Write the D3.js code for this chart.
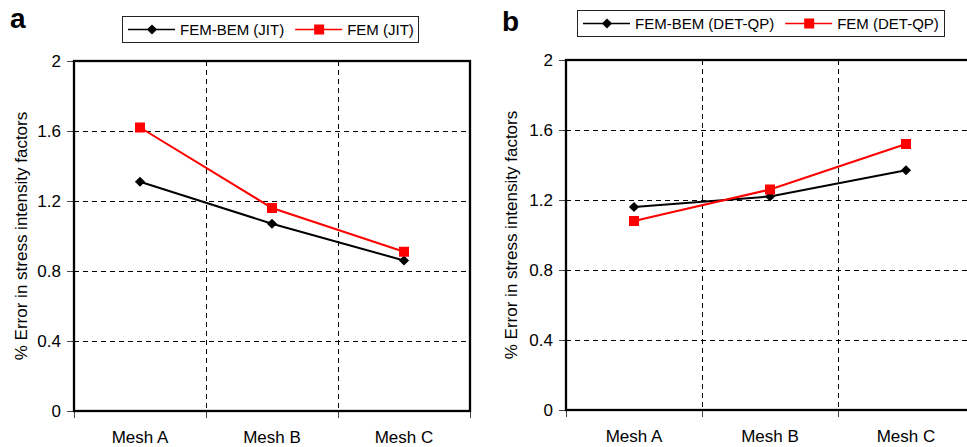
<!DOCTYPE html>
<html>
<head>
<meta charset="utf-8">
<script src="https://cdn.jsdelivr.net/npm/d3@7"></script>
<style>
  body { margin: 0; background: #fff; }
  svg { display: block; font-family: "Liberation Sans", Arial, sans-serif; }
</style>
</head>
<body>
<div id="container"></div>
<script>
// chart values
const categories = ["Mesh A", "Mesh B", "Mesh C"];
const yTicks = [0, 0.4, 0.8, 1.2, 1.6, 2];
const jitFemBem = [1.31, 1.07, 0.86];
const jitFem = [1.62, 1.16, 0.91];
const detFemBem = [1.16, 1.22, 1.37];
const detFem = [1.08, 1.26, 1.52];

const width = 967;
const height = 447;

const svg = d3.select("#container").append("svg")
    .attr("width", width)
    .attr("height", height);

// one panel per method, positions picked to match the original figure
const panels = [
    {
        letter: "a", letterX: 10, letterY: 28,
        left: 74, right: 470, top: 61, bottom: 411, titleX: 21,
        legend: { x: 122, y: 16, w: 296, h: 26 },
        series: [
            { name: "FEM-BEM (JIT)", values: jitFemBem, color: "#000", marker: "diamond" },
            { name: "FEM (JIT)", values: jitFem, color: "#ff0000", marker: "square" }
        ]
    },
    {
        letter: "b", letterX: 502, letterY: 31,
        left: 566, right: 974, top: 60, bottom: 410, titleX: 511,
        legend: { x: 577, y: 10, w: 367, h: 26 },
        series: [
            { name: "FEM-BEM (DET-QP)", values: detFemBem, color: "#000", marker: "diamond" },
            { name: "FEM (DET-QP)", values: detFem, color: "#ff0000", marker: "square" }
        ]
    }
];

// half pixel offset so 1px lines stay sharp
const crisp = v => Math.round(v) + 0.5;

function drawMarker(g, type, x, y, color) {
    if (type === "diamond") {
        g.append("path")
            .attr("d", d3.symbol().type(d3.symbolSquare).size(52)())
            .attr("transform", `translate(${x},${y}) rotate(45)`)
            .attr("fill", color);
    } else {
        g.append("rect")
            .attr("x", x - 5).attr("y", y - 5)
            .attr("width", 10).attr("height", 10)
            .attr("fill", color);
    }
}

panels.forEach(p => {
    const g = svg.append("g");

    const x = d3.scaleBand().domain(categories).range([p.left, p.right]).padding(0);
    const y = d3.scaleLinear().domain([0, 2]).range([p.bottom, p.top]);

    // panel letter
    g.append("text")
        .attr("x", p.letterX).attr("y", p.letterY)
        .attr("font-size", 28).attr("font-weight", "bold")
        .text(p.letter);

    // dashed grid
    g.append("g").selectAll("line")
        .data(yTicks.slice(1, -1))
        .join("line")
        .attr("x1", p.left).attr("x2", p.right)
        .attr("y1", d => crisp(y(d))).attr("y2", d => crisp(y(d)))
        .attr("stroke", "#000").attr("stroke-width", 1)
        .attr("stroke-dasharray", "5,4");

    g.append("g").selectAll("line")
        .data(categories.slice(1))
        .join("line")
        .attr("x1", d => crisp(x(d))).attr("x2", d => crisp(x(d)))
        .attr("y1", p.top).attr("y2", p.bottom)
        .attr("stroke", "#000").attr("stroke-width", 1)
        .attr("stroke-dasharray", "5,4");

    // y axis
    const yAxis = d3.axisLeft(y).tickValues(yTicks).tickSize(7).tickPadding(6)
        .tickFormat(d3.format("~g"));
    const ya = g.append("g").attr("transform", `translate(${p.left},0)`).call(yAxis);
    ya.select(".domain").remove();
    ya.selectAll(".tick line").attr("stroke", "#444");
    ya.selectAll("text").attr("font-size", 17).attr("fill", "#000")
        .attr("font-family", "Liberation Sans, Arial, sans-serif");

    // x axis: ticks on the band edges, labels at band centres
    const edges = categories.map(c => x(c)).concat([p.right]);
    g.append("g").selectAll("line")
        .data(edges)
        .join("line")
        .attr("x1", d => crisp(d)).attr("x2", d => crisp(d))
        .attr("y1", p.bottom).attr("y2", p.bottom + 7)
        .attr("stroke", "#444");
    g.append("g").selectAll("text")
        .data(categories)
        .join("text")
        .attr("x", d => x(d) + x.bandwidth() / 2)
        .attr("y", p.bottom + 32)
        .attr("text-anchor", "middle")
        .attr("font-size", 17)
        .text(d => d);

    // frame
    g.append("rect")
        .attr("x", p.left).attr("y", p.top)
        .attr("width", p.right - p.left).attr("height", p.bottom - p.top)
        .attr("fill", "none").attr("stroke", "#000").attr("stroke-width", 2.3);

    // axis title
    g.append("text")
        .attr("transform", `translate(${p.titleX},${(p.top + p.bottom) / 2}) rotate(-90)`)
        .attr("text-anchor", "middle")
        .attr("dy", "0.35em")
        .attr("font-size", 17)
        .text("% Error in stress intensity factors");

    // series
    const line = d3.line()
        .x((d, i) => x(categories[i]) + x.bandwidth() / 2)
        .y(d => y(d));

    p.series.forEach(s => {
        g.append("path")
            .datum(s.values)
            .attr("d", line)
            .attr("fill", "none")
            .attr("stroke", s.color)
            .attr("stroke-width", 2);
        s.values.forEach((v, i) => {
            drawMarker(g, s.marker, x(categories[i]) + x.bandwidth() / 2, y(v), s.color);
        });
    });

    // legend
    const L = p.legend;
    const lg = g.append("g");
    lg.append("rect")
        .attr("x", L.x + 0.5).attr("y", L.y + 0.5)
        .attr("width", L.w).attr("height", L.h)
        .attr("fill", "#fff").attr("stroke", "#222").attr("stroke-width", 1);

    let cx = L.x + 6;
    const cy = L.y + L.h / 2 + 0.5;
    p.series.forEach(s => {
        lg.append("line")
            .attr("x1", cx).attr("x2", cx + 47)
            .attr("y1", cy).attr("y2", cy)
            .attr("stroke", s.color).attr("stroke-width", 1.6);
        drawMarker(lg, s.marker, cx + 24, cy, s.color);
        const t = lg.append("text")
            .attr("x", cx + 52).attr("y", cy + 5.5)
            .attr("font-size", 15)
            .text(s.name);
        cx += 52 + t.node().getComputedTextLength() + 11;
    });
});
</script>
</body>
</html>
